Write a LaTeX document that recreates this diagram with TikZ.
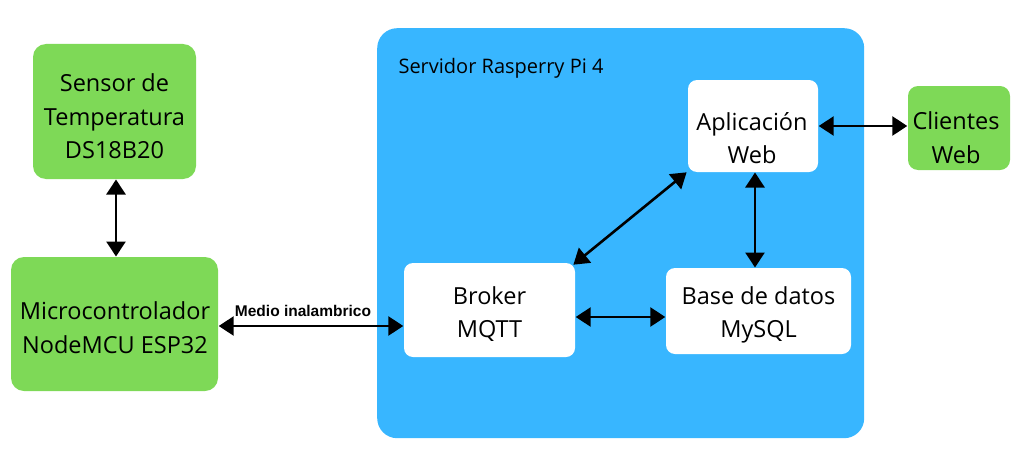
\documentclass[tikz,border=0pt]{standalone}
\usepackage{fontspec}
\setmainfont{Open Sans}
\newfontfamily\lblfont{Liberation Sans}
\usetikzlibrary{arrows.meta}
\definecolor{grn}{HTML}{7ED957}
\definecolor{blu}{HTML}{38B6FF}
\tikzset{
  greenbox/.style={fill=grn, rounded corners=13pt, inner sep=0pt},
  whitebox/.style={fill=white, rounded corners=9pt, inner sep=0pt},
  boxtext/.style={align=center, font=\fontsize{23.5}{33.5}\selectfont, inner sep=0pt},
  conn/.style={line width=2.6pt, {Triangle[length=15pt,width=19pt]}-{Triangle[length=15pt,width=19pt]}, shorten <=0.5pt, shorten >=0.5pt}
}
\begin{document}
\begin{tikzpicture}[x=1pt,y=-1pt]
\useasboundingbox (0,0) rectangle (1024,460);
% server background
\node[fill=blu, rounded corners=20pt, minimum width=487pt, minimum height=410pt, anchor=north west, inner sep=0pt] (srv) at (377,28) {};
\node[anchor=west, font=\fontsize{20}{22}\selectfont] (srvlbl) at (395,68) {Servidor Rasperry Pi 4};
% boxes
\node[greenbox, minimum width=163pt, minimum height=135pt] (sensor) at (114.5,111.5) {};
\node[boxtext] (sensor-t) at (114.5,116.5) {Sensor de\\Temperatura\\DS18B20};
\node[greenbox, minimum width=207pt, minimum height=134pt] (micro) at (114.5,324) {};
\node[boxtext] (micro-t) at (115,327.5) {Microcontrolador\\NodeMCU ESP32};
\node[whitebox, minimum width=171pt, minimum height=94pt] (broker) at (489.5,310) {};
\node[boxtext] (broker-t) at (489.5,314) {Broker\\MQTT};
\node[whitebox, minimum width=130pt, minimum height=92pt] (app) at (753,126) {};
\node[boxtext] (app-t) at (752,138) {Aplicación\\Web};
\node[whitebox, minimum width=185pt, minimum height=86pt] (db) at (758.5,311) {};
\node[boxtext] (db-t) at (758.5,315) {Base de datos\\MySQL};
\node[greenbox, rounded corners=10pt, minimum width=102pt, minimum height=84pt] (cli) at (959,128) {};
\node[boxtext] (cli-t) at (956,137.5) {Clientes\\Web};
% connectors
\draw[conn] (116,179) coordinate (a1) -- (116,257) coordinate (a2);
\draw[conn] (micro.east |- 0,326) -- (broker.west |- 0,326) node[midway, above=5pt, xshift=-8pt, font=\lblfont\bfseries\fontsize{15.5}{18}\selectfont] (medio) {Medio inalambrico};
\draw[conn] (broker.east |- 0,317) -- (db.west |- 0,317);
\draw[conn] (573,265) coordinate (b1) -- (687,172) coordinate (b2);
\draw[conn] (755,172) coordinate (c1) -- (755,268) coordinate (c2);
\draw[conn] (app.east |- 0,126) -- (cli.west |- 0,126);
\end{tikzpicture}
\end{document}
